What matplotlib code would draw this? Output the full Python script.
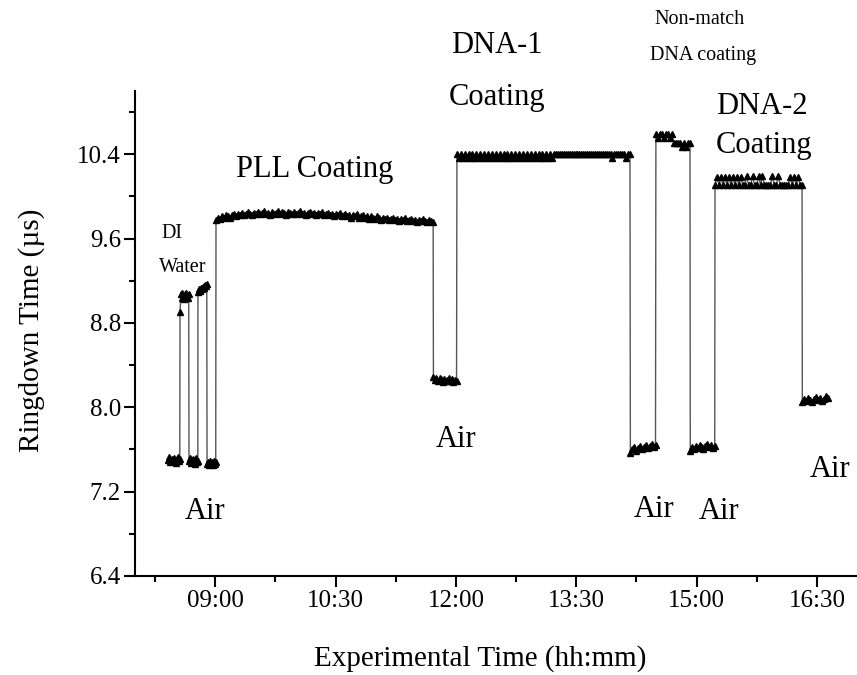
import numpy as np
import matplotlib
matplotlib.use("Agg")
import matplotlib.pyplot as plt
from matplotlib.ticker import FixedLocator, FuncFormatter

plt.rcParams['font.family'] = ['Liberation Serif', 'DejaVu Serif']

# ---- data: (start minute, end minute) of each measurement segment and the readings ----
air1_span = (505.0, 513.5)
air1_vals = [7.50, 7.53, 7.48, 7.51, 7.49, 7.52, 7.50, 7.47, 7.51, 7.53, 7.49, 7.51]
water1_span = (513.7, 520.2)
water1_vals = [8.90, 9.07, 9.04, 9.08, 9.06, 9.03, 9.07, 9.05, 9.08, 9.06, 9.04, 9.07]
air2_span = (520.4, 527.0)
air2_vals = [7.49, 7.52, 7.47, 7.50, 7.48, 7.51, 7.49, 7.46, 7.50, 7.52, 7.48, 7.49]
water2_span = (527.1, 533.7)
water2_vals = [9.09, 9.12, 9.10, 9.11, 9.13, 9.12, 9.14, 9.13, 9.15, 9.16, 9.15, 9.17]
air3_span = (533.9, 540.4)
air3_vals = [7.46, 7.48, 7.45, 7.47, 7.49, 7.46, 7.48, 7.45, 7.47, 7.49, 7.46, 7.48]
pll_span = (540.6, 703.0)
pll_vals = [9.78, 9.80, 9.79, 9.81, 9.80, 9.82, 9.81, 9.80, 9.82, 9.83,
            9.81, 9.83, 9.82, 9.84, 9.82, 9.83, 9.85, 9.83, 9.82, 9.84,
            9.83, 9.85, 9.83, 9.84, 9.86, 9.83, 9.84, 9.82, 9.85, 9.83,
            9.84, 9.86, 9.83, 9.85, 9.84, 9.82, 9.85, 9.84, 9.83, 9.85,
            9.83, 9.84, 9.86, 9.83, 9.84, 9.82, 9.84, 9.85, 9.83, 9.84,
            9.82, 9.84, 9.83, 9.85, 9.82, 9.83, 9.84, 9.82, 9.83, 9.81,
            9.83, 9.82, 9.84, 9.81, 9.82, 9.83, 9.81, 9.82, 9.80, 9.82,
            9.81, 9.83, 9.80, 9.81, 9.82, 9.80, 9.81, 9.79, 9.81, 9.80,
            9.79, 9.81, 9.80, 9.78, 9.80, 9.79, 9.80, 9.78, 9.79, 9.80,
            9.78, 9.79, 9.77, 9.79, 9.78, 9.80, 9.77, 9.78, 9.79, 9.77,
            9.78, 9.76, 9.78, 9.77, 9.79, 9.77, 9.76, 9.78, 9.77, 9.76]
air4_span = (703.2, 720.5)
air4_vals = [8.29, 8.26, 8.28, 8.25, 8.28, 8.27, 8.24, 8.27, 8.25, 8.26,
             8.28, 8.25, 8.27, 8.24, 8.26, 8.25]
dna1_span = (720.8, 850.2)
dna1_vals = [10.40, 10.36, 10.40, 10.36, 10.40, 10.36, 10.40, 10.36, 10.40, 10.36,
             10.40, 10.36, 10.40, 10.36, 10.40, 10.36, 10.40, 10.36, 10.40, 10.36,
             10.40, 10.36, 10.40, 10.36, 10.40, 10.36, 10.40, 10.36, 10.40, 10.36,
             10.40, 10.36, 10.40, 10.36, 10.40, 10.36, 10.40, 10.36, 10.40, 10.36,
             10.40, 10.36, 10.40, 10.36, 10.40, 10.36, 10.40, 10.36, 10.40, 10.36,
             10.40, 10.40, 10.40, 10.40, 10.40, 10.40, 10.40, 10.40, 10.40, 10.40,
             10.40, 10.40, 10.40, 10.40, 10.40, 10.40, 10.40, 10.40, 10.40, 10.40,
             10.40, 10.40, 10.40, 10.40, 10.40, 10.40, 10.40, 10.40, 10.40, 10.40,
             10.36, 10.40, 10.40, 10.40, 10.40, 10.40, 10.40, 10.36, 10.40, 10.40]
air5_span = (850.5, 869.3)
air5_vals = [7.57, 7.60, 7.62, 7.59, 7.61, 7.63, 7.60, 7.62, 7.64, 7.61, 7.63,
             7.65, 7.62, 7.64]
nonmatch_span = (869.6, 895.1)
nonmatch_vals = [10.59, 10.55, 10.59, 10.59, 10.55, 10.59, 10.59, 10.55, 10.59,
                 10.51, 10.51, 10.51, 10.51, 10.47, 10.51, 10.47, 10.51, 10.51]
air6_span = (895.3, 913.6)
air6_vals = [7.59, 7.62, 7.60, 7.63, 7.61, 7.64, 7.62, 7.60, 7.63, 7.65, 7.62,
             7.64, 7.61, 7.63]
dna2_span = (913.8, 978.9)
dna2_vals = [10.11, 10.18, 10.11, 10.18, 10.11, 10.18, 10.11, 10.18, 10.11, 10.18,
             10.11, 10.18, 10.11, 10.18, 10.11, 10.11, 10.19, 10.11, 10.11, 10.19,
             10.11, 10.11, 10.19, 10.11, 10.19, 10.11, 10.11, 10.11, 10.11, 10.19,
             10.11, 10.11, 10.19, 10.11, 10.11, 10.11, 10.11, 10.11, 10.18, 10.11,
             10.18, 10.11, 10.18, 10.11, 10.11]
air7_span = (979.1, 998.3)
air7_vals = [8.05, 8.08, 8.06, 8.09, 8.07, 8.05, 8.08, 8.10, 8.07, 8.09, 8.06,
             8.08, 8.11, 8.09]

segments = [(air1_span, air1_vals), (water1_span, water1_vals), (air2_span, air2_vals),
            (water2_span, water2_vals), (air3_span, air3_vals), (pll_span, pll_vals),
            (air4_span, air4_vals), (dna1_span, dna1_vals), (air5_span, air5_vals),
            (nonmatch_span, nonmatch_vals), (air6_span, air6_vals), (dna2_span, dna2_vals),
            (air7_span, air7_vals)]

x_major = [540, 630, 720, 810, 900, 990]      # 09:00 ... 16:30 (minutes)
x_minor = [495, 585, 675, 765, 855, 945]
y_major = [6.4, 7.2, 8.0, 8.8, 9.6, 10.4]
y_minor = [6.8, 7.6, 8.4, 9.2, 10.0, 10.8]

t_all, v_all = [], []
for (t0, t1), vals in segments:
    t_all.extend(np.linspace(t0, t1, len(vals)))
    v_all.extend(vals)
t_all = np.array(t_all)
v_all = np.array(v_all)

fig = plt.figure(figsize=(8.57, 6.75), dpi=100)
ax = fig.add_axes([0.1575, 0.1467, 0.8425, 0.7185])

ax.plot(t_all, v_all, '-', color='#555555', lw=1.0, zorder=2)
ax.plot(t_all, v_all, '^', color='black', ms=4.5, mec='black', zorder=3)

ax.set_xlim(480, 1020)
ax.set_ylim(6.4, 11.0)

ax.xaxis.set_major_locator(FixedLocator(x_major))
ax.xaxis.set_minor_locator(FixedLocator(x_minor))
ax.xaxis.set_major_formatter(FuncFormatter(lambda v, p: f"{int(v)//60:02d}:{int(v)%60:02d}"))
ax.yaxis.set_major_locator(FixedLocator(y_major))
ax.yaxis.set_minor_locator(FixedLocator(y_minor))
ax.yaxis.set_major_formatter(FuncFormatter(lambda v, p: f"{v:.1f}"))

for s in ['top', 'right']:
    ax.spines[s].set_visible(False)
for s in ['left', 'bottom']:
    ax.spines[s].set_linewidth(1.5)

ax.tick_params(which='major', direction='out', length=8, width=1.5, labelsize=18, pad=2)
ax.tick_params(which='minor', direction='out', length=4.5, width=1.5)

ax.set_xlabel('Experimental Time (hh:mm)', fontsize=21)
ax.set_ylabel('Ringdown Time (µs)', fontsize=21)
ax.xaxis.set_label_coords(0.478, -0.142)
ax.yaxis.set_label_coords(-0.125, 0.507)

big = 22
small = 14.5
notes = [
    ("DI", 507.7, 9.65, small), ("Water", 515.9, 9.33, small),
    ("Air", 532.4, 7.01, big),
    ("PLL Coating", 614.6, 10.26, big),
    ("Air", 720.1, 7.69, big),
    ("DNA-1", 750.8, 11.43, big), ("Coating", 750.8, 10.94, big),
    ("Non-match", 902.6, 11.68, small), ("DNA coating", 904.8, 11.34, small),
    ("DNA-2", 949.0, 10.85, big), ("Coating", 950.5, 10.48, big),
    ("Air", 868.2, 7.03, big), ("Air", 916.8, 7.01, big),
    ("Air", 999.8, 7.41, big),
]
for txt, x, y, fs in notes:
    ax.text(x, y, txt, fontsize=fs, ha='center', va='center')

fig.savefig('out.png', dpi=100)
